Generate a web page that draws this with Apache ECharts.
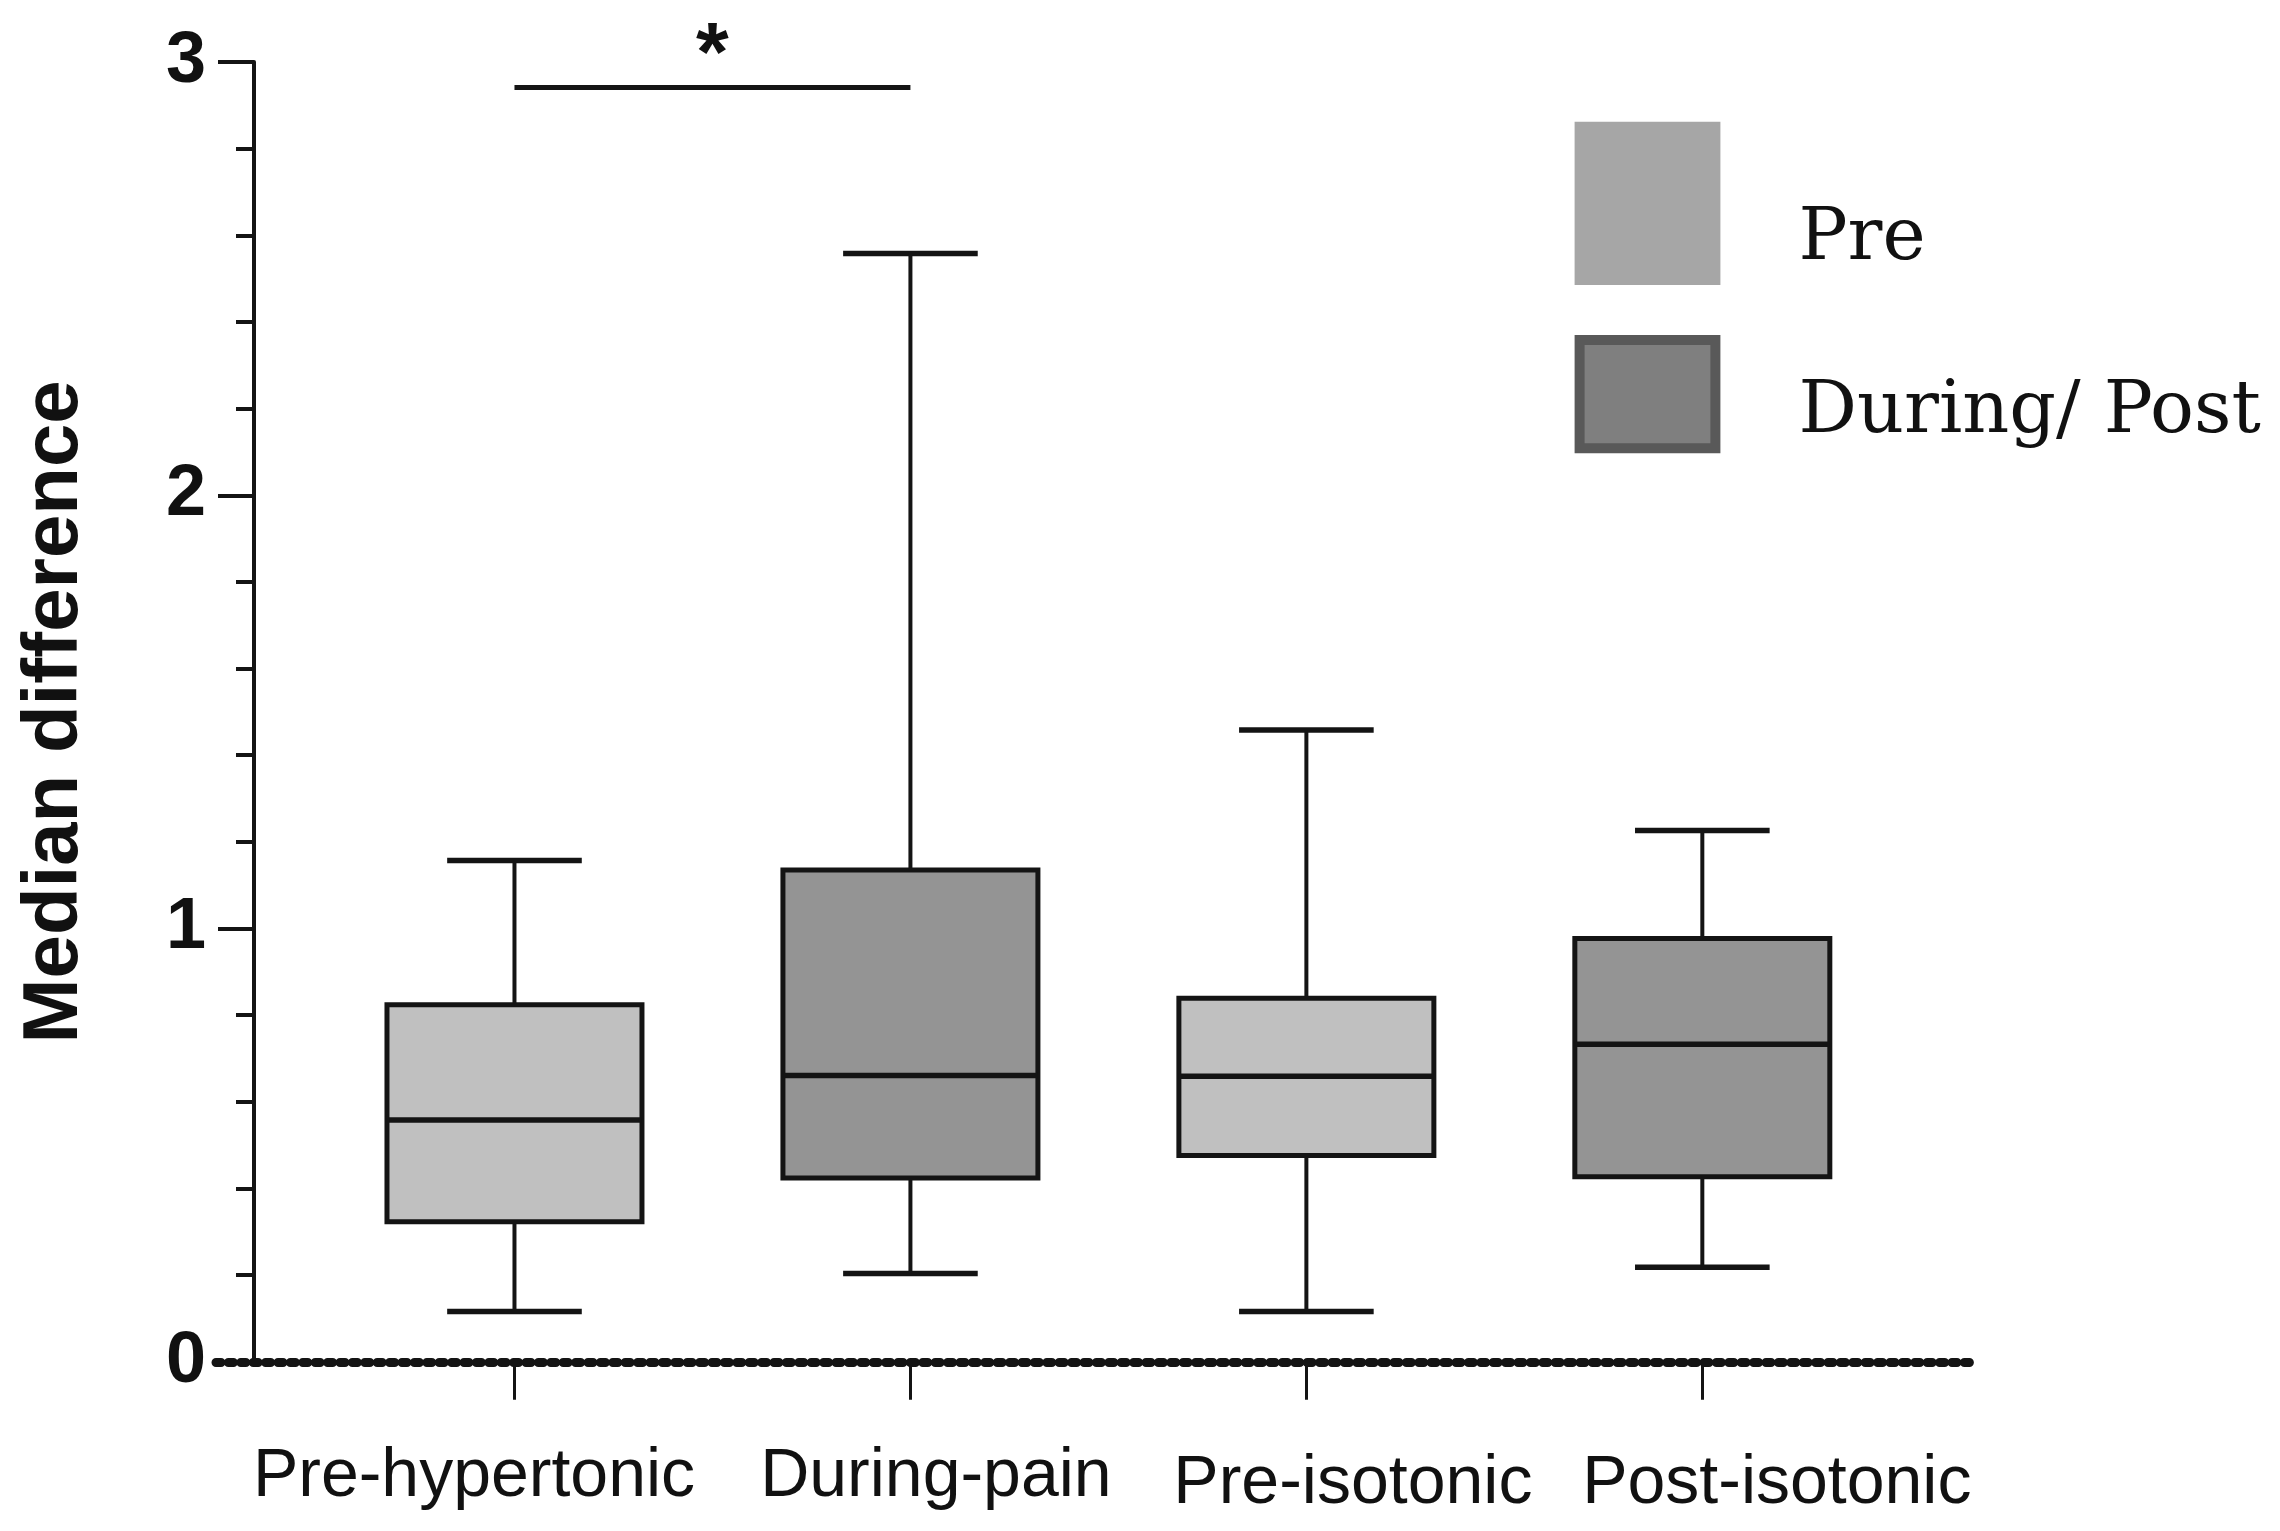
<!DOCTYPE html>
<html><head><meta charset="utf-8">
<script src="https://cdn.jsdelivr.net/npm/echarts/dist/echarts.min.js"></script>
<style>html,body{margin:0;padding:0;background:#fff}#c{width:2280px;height:1531px}</style>
</head><body><div id="c"></div>
<script>
// ---- data ----
const categories = ['Pre-hypertonic', 'During-pain', 'Pre-isotonic', 'Post-isotonic'];
const groups = ['Pre', 'During/ Post', 'Pre', 'During/ Post'];
const whiskerLow = [0.116, 0.204, 0.116, 0.218];
const q1 = [0.323, 0.424, 0.476, 0.427];
const median = [0.558, 0.661, 0.659, 0.733];
const q3 = [0.824, 1.135, 0.839, 0.977];
const whiskerHigh = [1.157, 2.558, 1.458, 1.226];
const legendNames = ['Pre', 'During/ Post'];
const sigPair = ['Pre-hypertonic', 'During-pain'];
const sigLevel = 2.941;
const sigLabel = '*';
const yAxisTitle = 'Median difference';

// ---- styles ----
const SANS = "'Liberation Sans', Arial, Helvetica, sans-serif";
const SERIF = "'DejaVu Serif', serif";
const INK = '#141414';
const fills = { 'Pre': '#c0c0c0', 'During/ Post': '#949494' };

function seriesData(g) {
  const out = [];
  categories.forEach((c, i) => {
    if (groups[i] === g) out.push([i, whiskerLow[i], q1[i], median[i], q3[i], whiskerHigh[i]]);
  });
  return out;
}

function renderBox(params, api) {
  const x = api.value(0);
  const pLow = api.coord([x, api.value(1)]);
  const pQ1 = api.coord([x, api.value(2)]);
  const pMed = api.coord([x, api.value(3)]);
  const pQ3 = api.coord([x, api.value(4)]);
  const pHigh = api.coord([x, api.value(5)]);
  const band = api.size([1, 0])[0];
  const bw = band * 0.644, cw = band * 0.34;
  const cx = pMed[0];
  return {
    type: 'group', children: [
      { type: 'line', shape: { x1: cx, y1: pQ1[1], x2: cx, y2: pLow[1] }, style: { stroke: INK, lineWidth: 4 } },
      { type: 'line', shape: { x1: cx, y1: pQ3[1], x2: cx, y2: pHigh[1] }, style: { stroke: INK, lineWidth: 4 } },
      { type: 'line', shape: { x1: cx - cw / 2, y1: pLow[1], x2: cx + cw / 2, y2: pLow[1] }, style: { stroke: INK, lineWidth: 5.5 } },
      { type: 'line', shape: { x1: cx - cw / 2, y1: pHigh[1], x2: cx + cw / 2, y2: pHigh[1] }, style: { stroke: INK, lineWidth: 5.5 } },
      { type: 'rect', shape: { x: cx - bw / 2, y: pQ3[1], width: bw, height: pQ1[1] - pQ3[1] }, style: { fill: api.visual('color'), stroke: INK, lineWidth: 5 } },
      { type: 'line', shape: { x1: cx - bw / 2, y1: pMed[1], x2: cx + bw / 2, y2: pMed[1] }, style: { stroke: INK, lineWidth: 5.5 } }
    ]
  };
}

const chart = echarts.init(document.getElementById('c'), null, { width: 2280, height: 1531 });

const wideGrid = { left: 216, right: 310.5, top: 62, bottom: 169.2 };
const boxGrid = { left: 316.5, right: 379.7, top: 62, bottom: 169.2 };

const labelRich = {
  l0: { fontSize: 68, fontFamily: SANS, color: '#111', padding: [0, 81, 0, 0] },
  l1: { fontSize: 68, fontFamily: SANS, color: '#111', padding: [0, 0, 0, 51] },
  l2: { fontSize: 68, fontFamily: SANS, color: '#111', padding: [7, 0, 0, 93] },
  l3: { fontSize: 68, fontFamily: SANS, color: '#111', padding: [7, 0, 0, 149] }
};

const option = {
  animation: false,
  backgroundColor: '#ffffff',
  grid: [wideGrid, wideGrid, boxGrid],
  xAxis: [
    { gridIndex: 0, type: 'value', min: 0, max: 1, axisLine: { show: true, lineStyle: { color: INK, width: 3 } },
      axisTick: { show: false }, axisLabel: { show: false }, splitLine: { show: false } },
    { gridIndex: 1, type: 'value', min: 0, max: 1, axisLine: { show: true, lineStyle: { color: INK, width: 9, type: [5, 7.4] } },
      axisTick: { show: false }, axisLabel: { show: false }, splitLine: { show: false } },
    { gridIndex: 2, type: 'category', data: categories, boundaryGap: true,
      axisLine: { show: false },
      axisTick: { show: true, alignWithLabel: true, length: 38, lineStyle: { width: 3, color: INK } },
      axisLabel: { interval: 0, margin: 81, formatter: (v, i) => '{l' + i + '|' + v + '}', rich: labelRich },
      splitLine: { show: false } }
  ],
  yAxis: [
    { gridIndex: 0, type: 'value', min: 0, max: 3, show: false },
    { gridIndex: 1, type: 'value', min: 0, max: 3, show: false },
    { gridIndex: 2, type: 'value', min: 0, max: 3, interval: 1, offset: 62.5,
      axisLine: { show: true, lineStyle: { color: INK, width: 4 } },
      axisTick: { show: true, length: 36, lineStyle: { width: 4, color: INK } },
      minorTick: { show: true, splitNumber: 5, length: 18, lineStyle: { width: 4, color: INK } },
      splitLine: { show: false }, minorSplitLine: { show: false },
      axisLabel: { fontSize: 72, fontWeight: 'bold', fontFamily: SANS, color: '#111', margin: 48 },
      name: yAxisTitle, nameLocation: 'middle', nameGap: 160,
      nameTextStyle: { fontSize: 78, fontWeight: 'bold', fontFamily: SANS, color: '#111' } }
  ],
  series: [
    { name: legendNames[0], type: 'custom', xAxisIndex: 2, yAxisIndex: 2, renderItem: renderBox,
      itemStyle: { color: fills[legendNames[0]] }, encode: { x: 0, y: [1, 2, 3, 4, 5] },
      data: seriesData(legendNames[0]),
      markLine: { silent: true, symbol: ['none', 'none'],
        lineStyle: { color: INK, width: 5, type: 'solid' },
        label: { show: true, position: 'middle', formatter: sigLabel, fontSize: 84, fontWeight: 'bold', fontFamily: SANS, color: '#111', distance: -12 },
        data: [[{ coord: [sigPair[0], sigLevel] }, { coord: [sigPair[1], sigLevel] }]] } },
    { name: legendNames[1], type: 'custom', xAxisIndex: 2, yAxisIndex: 2, renderItem: renderBox,
      itemStyle: { color: fills[legendNames[1]] }, encode: { x: 0, y: [1, 2, 3, 4, 5] },
      data: seriesData(legendNames[1]) }
  ],
  graphic: [
    { type: 'rect', left: 1574.6, top: 121.7, shape: { width: 145.8, height: 163.3 }, style: { fill: '#a6a6a6' } },
    { type: 'rect', left: 1574.6, top: 335, shape: { x: 5, y: 5, width: 135.8, height: 108.3 }, style: { fill: '#7f7f7f', stroke: '#595959', lineWidth: 10 } },
    { type: 'text', x: 1798.5, y: 240, style: { text: legendNames[0], fontSize: 73, fontFamily: SERIF, fill: '#111', verticalAlign: 'middle', align: 'left' } },
    { type: 'text', x: 1798.5, y: 413, style: { text: legendNames[1], fontSize: 73, fontFamily: SERIF, fill: '#111', verticalAlign: 'middle', align: 'left' } }
  ]
};
chart.setOption(option);
</script>
</body></html>
